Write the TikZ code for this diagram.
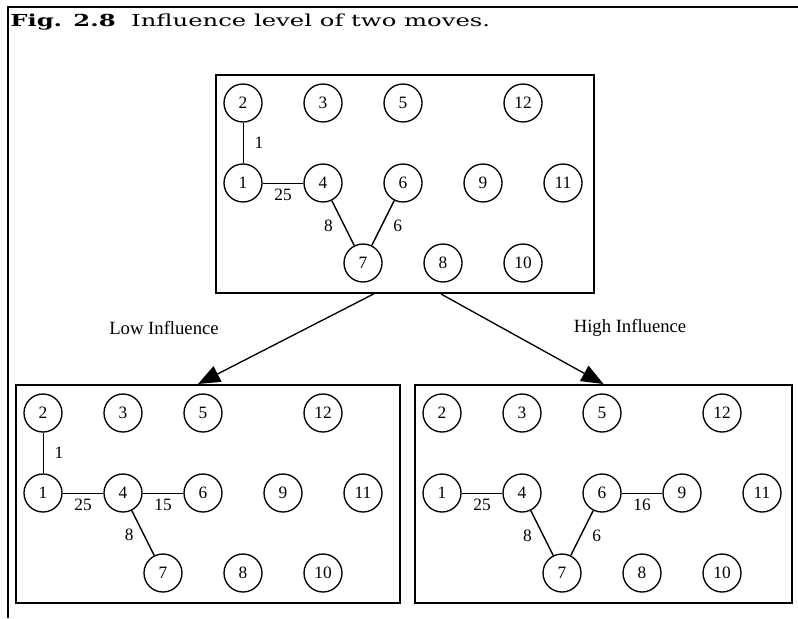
\documentclass[tikz,border=0pt]{standalone}
\usepackage{fontspec}
\setmainfont{Liberation Serif}
\newfontfamily\figfont{DejaVu Serif}[FakeStretch=1.47]
\usetikzlibrary{arrows.meta,positioning}

\tikzset{
  state/.style={circle,draw,line width=1pt,minimum size=28.5pt,inner sep=0pt,
    font=\fontsize{13}{15}\selectfont},
  board/.style={rectangle,draw,line width=1.5pt,anchor=north west,inner sep=0pt,
    minimum height=163.5pt},
  link/.style={line width=0.75pt},
  diag/.style={line width=1.1pt},
  weight/.style={font=\fontsize{13}{15}\selectfont},
  move/.style={line width=1pt,-{Triangle[length=16.5pt,width=13pt]}},
  tag/.style={font=\fontsize{14}{16}\selectfont},
}

\begin{document}
\begin{tikzpicture}[x=0.75pt,y=-0.75pt]
\useasboundingbox (0,0) rectangle (798,618);

% page frame and caption
\draw[line width=1.5pt] (798,7) -- (8,7) -- (8,618);
\node[anchor=base west,inner sep=0pt,font=\figfont\fontsize{12.4}{15}\selectfont] (caption) at (10,26)
  {\textbf{Fig. 2.8}\ \ Influence level of two moves.};

% three boards with the same twelve groups
\foreach \pre/\ox/\oy/\bw in {t/215/74/378, l/15/384/384, r/414/384/377}{
  \begin{scope}[shift={(\ox,\oy)}]
    \node[board,minimum width=\bw*0.75pt] (\pre box) at (0,0) {};
    \foreach \n/\c/\r in {2/0/0, 3/1/0, 5/2/0, 12/3.5/0,
                          1/0/1, 4/1/1, 6/2/1, 9/3/1, 11/4/1,
                          7/1.5/2, 8/2.5/2, 10/3.5/2}
      \node[state] (\pre\n) at (28+80*\c,29+80*\r) {\n};
  \end{scope}
}

% top board
\draw[link] (t2) -- node[weight,right=5pt] {1} (t1);
\draw[link] (t1) -- node[weight,below=1pt] {25} (t4);
\draw[diag] (t4) -- node[weight,pos=.57,left=5pt] {8} (t7);
\draw[diag] (t6) -- node[weight,pos=.57,right=5pt] {6} (t7);

% low influence board
\draw[link] (l2) -- node[weight,right=5pt] {1} (l1);
\draw[link] (l1) -- node[weight,below=1pt] {25} (l4);
\draw[link] (l4) -- node[weight,below=1pt] {15} (l6);
\draw[diag] (l4) -- node[weight,pos=.55,left=4pt] {8} (l7);

% high influence board
\draw[link] (r1) -- node[weight,below=1pt] {25} (r4);
\draw[link] (r6) -- node[weight,below=1pt] {16} (r9);
\draw[diag] (r4) -- node[weight,pos=.57,left=5pt] {8} (r7);
\draw[diag] (r6) -- node[weight,pos=.57,right=5pt] {6} (r7);

% the two moves
\draw[move] ([xshift=-23.6pt]tbox.south) -- ([xshift=-7.5pt]lbox.north);
\draw[move] ([xshift=27pt]tbox.south) -- (rbox.north);
\node[tag] (low) at (164,328) {Low Influence};
\node[tag] (high) at (630,328) {High Influence};

\end{tikzpicture}
\end{document}
